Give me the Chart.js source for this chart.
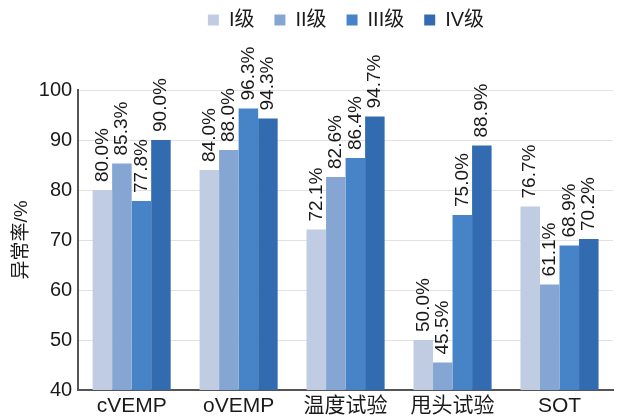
<!DOCTYPE html>
<html>
<head>
<meta charset="utf-8">
<script src="https://cdn.jsdelivr.net/npm/chart.js@4"></script>
<style>
  body { margin: 0; background: #fff; }
  #wrap { width: 621px; height: 419px; }
</style>
</head>
<body>
<div id="wrap"><canvas id="abnormalChart"></canvas></div>
<script>
// categories and values
const categories = ['cVEMP', 'oVEMP', '温度试验', '甩头试验', 'SOT'];
const gradeNames = ['I级', 'II级', 'III级', 'IV级'];
const grade1 = [80.0, 84.0, 72.1, 50.0, 76.7];
const grade2 = [85.3, 88.0, 82.6, 45.5, 61.1];
const grade3 = [77.8, 96.3, 86.4, 75.0, 68.9];
const grade4 = [90.0, 94.3, 94.7, 88.9, 70.2];
const yTicks = [40, 50, 60, 70, 80, 90, 100];

const colors = ['#bfcce2', '#85a5d2', '#4683c7', '#336bb0'];
const fontFamily = '"Liberation Sans", Arial, "Noto Sans CJK SC", sans-serif';

// vertical value labels sitting on top of each bar
const barLabels = {
  id: 'barLabels',
  afterDatasetsDraw(chart) {
    const ctx = chart.ctx;
    ctx.save();
    ctx.font = '19px ' + fontFamily;
    ctx.fillStyle = '#1a1a1a';
    ctx.textAlign = 'left';
    ctx.textBaseline = 'middle';
    chart.data.datasets.forEach((ds, i) => {
      chart.getDatasetMeta(i).data.forEach((bar, j) => {
        ctx.save();
        ctx.translate(bar.x, bar.y - 8);
        ctx.rotate(-Math.PI / 2);
        ctx.fillText(ds.data[j].toFixed(1) + '%', 0, 0);
        ctx.restore();
      });
    });
    ctx.restore();
  }
};

// leave room under the legend for the tall labels, and move the legend up/right
const legendSpace = {
  id: 'legendSpace',
  beforeInit(chart) {
    const fit = chart.legend.fit;
    chart.legend.fit = function() {
      fit.bind(chart.legend)();
      this.height += 40;
    };
  },
  afterLayout(chart) {
    chart.legend.left = 79;
    chart.legend.top = -10;
  }
};

new Chart(document.getElementById('abnormalChart'), {
  type: 'bar',
  data: {
    labels: categories,
    datasets: [grade1, grade2, grade3, grade4].map((d, i) => ({
      label: gradeNames[i],
      data: d,
      backgroundColor: colors[i],
      categoryPercentage: 0.73,
      barPercentage: 1.0
    }))
  },
  options: {
    responsive: true,
    maintainAspectRatio: false,
    animation: false,
    layout: { padding: { top: 0, right: 8, left: 7, bottom: 0 } },
    plugins: {
      legend: {
        position: 'top',
        labels: {
          boxWidth: 11,
          boxHeight: 11,
          padding: 20,
          color: '#1a1a1a',
          font: { size: 20, family: fontFamily }
        }
      },
      tooltip: { enabled: false }
    },
    scales: {
      x: {
        grid: { display: false, drawTicks: false },
        border: { color: '#555', width: 2 },
        afterFit(axis) {
          axis.height = 29;
        },
        ticks: {
          color: '#1a1a1a',
          padding: 4,
          font: { size: 21, family: fontFamily }
        }
      },
      y: {
        min: 40,
        max: 100,
        afterBuildTicks(axis) {
          axis.ticks = yTicks.map(v => ({ value: v }));
        },
        grid: { color: '#e2e2e2', drawTicks: false },
        border: { color: '#555', width: 2 },
        ticks: {
          color: '#1a1a1a',
          padding: 6,
          font: { size: 20, family: fontFamily }
        },
        title: {
          display: true,
          text: '异常率/%',
          color: '#1a1a1a',
          padding: { top: 3, bottom: 0 },
          font: { size: 19, family: fontFamily }
        }
      }
    }
  },
  plugins: [barLabels, legendSpace]
});
</script>
</body>
</html>
